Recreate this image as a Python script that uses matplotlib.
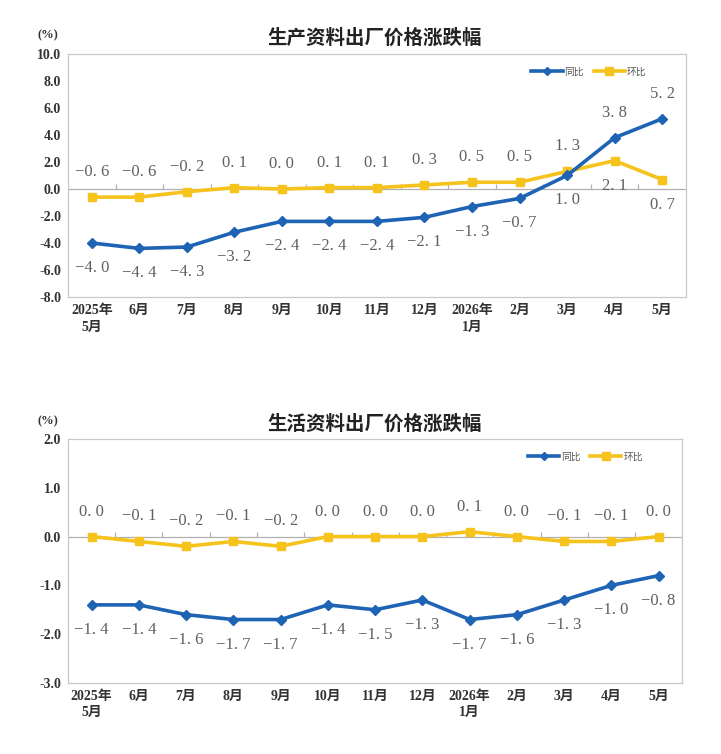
import matplotlib
matplotlib.use("Agg")
import matplotlib.pyplot as plt
from matplotlib.lines import Line2D

# ======================================================
# Datos
# ======================================================
months = ["2025年\n5月", "6月", "7月", "8月", "9月", "10月", "11月", "12月",
          "2026年\n1月", "2月", "3月", "4月", "5月"]

prod_yoy = [-4.0, -4.4, -4.3, -3.2, -2.4, -2.4, -2.4, -2.1, -1.3, -0.7, 1.0, 3.8, 5.2]
prod_mom = [-0.6, -0.6, -0.2, 0.1, 0.0, 0.1, 0.1, 0.3, 0.5, 0.5, 1.3, 2.1, 0.7]

life_yoy = [-1.4, -1.4, -1.6, -1.7, -1.7, -1.4, -1.5, -1.3, -1.7, -1.6, -1.3, -1.0, -0.8]
life_mom = [0.0, -0.1, -0.2, -0.1, -0.2, 0.0, 0.0, 0.0, 0.1, 0.0, -0.1, -0.1, 0.0]

# +1 etiqueta arriba, -1 etiqueta abajo
prod_yoy_side = [-1] * 10 + [-1, 1, 1]
prod_mom_side = [1] * 10 + [1, -1, -1]
life_yoy_side = [-1] * 13
life_mom_side = [1] * 13

BLUE = "#1f63b5"
YELLOW = "#f6c21c"
GRAY = "#606060"
SERIF = ["Liberation Serif", "Noto Sans CJK SC"]


def fmt(v):
    # separación amplia como en el original
    return f"{v:.1f}".replace("-", "−").replace(".", ". ")


def draw_panel(ax, yoy, mom, yoy_side, mom_side, ylim, ystep, tick_h):
    x = list(range(len(months)))
    ax.plot(x, yoy, color=BLUE, lw=2.6, marker="D", ms=5, zorder=4)
    ax.plot(x, mom, color=YELLOW, lw=2.6, marker="s", ms=6, zorder=3)

    ax.axhline(0, color="#b0b0b0", lw=0.9, zorder=1)
    bounds = [i + 0.5 for i in x[:-1]]
    ax.vlines(bounds, 0, tick_h, color="#b0b0b0", lw=0.9, zorder=1)

    for xi, v, s in zip(x, yoy, yoy_side):
        ax.annotate(fmt(v), (xi, v), xytext=(0, 18 * s), textcoords="offset points",
                    ha="center", va="center", fontsize=12, color=GRAY,
                    family=SERIF)
    for xi, v, s in zip(x, mom, mom_side):
        ax.annotate(fmt(v), (xi, v), xytext=(0, 18 * s), textcoords="offset points",
                    ha="center", va="center", fontsize=12, color=GRAY,
                    family=SERIF)

    ax.set_xlim(-0.5, len(months) - 0.5)
    ax.set_ylim(*ylim)
    yt = []
    t = ylim[0]
    while t <= ylim[1] + 1e-9:
        yt.append(round(t, 1))
        t += ystep
    ax.set_yticks(yt)
    ax.set_yticklabels([f"{v:.1f}" for v in yt], family=SERIF,
                       fontweight="bold", fontsize=10, color="#333333")
    ax.set_xticks(x)
    ax.set_xticklabels(months, family=SERIF, fontweight="bold", fontsize=10,
                       color="#333333", linespacing=1.35)
    ax.tick_params(axis="both", length=0, pad=5)
    for sp in ax.spines.values():
        sp.set_color("#c8c8c8")
        sp.set_linewidth(0.9)

    handles = [Line2D([], [], color=BLUE, lw=2.6, marker="D", ms=4.5),
               Line2D([], [], color=YELLOW, lw=2.6, marker="s", ms=6)]
    ax.legend(handles, ["同比", "环比"], loc="upper right", ncol=2,
              bbox_to_anchor=(0.95, 0.985), frameon=False,
              prop={"family": "Noto Sans CJK SC", "size": 7},
              labelcolor="#555555",
              handlelength=3.2, columnspacing=1.0, handletextpad=0.2)


fig = plt.figure(figsize=(7.21, 7.54), dpi=100)

ax1 = fig.add_axes([0.0943, 0.6061, 0.857, 0.3223])
draw_panel(ax1, prod_yoy, prod_mom, prod_yoy_side, prod_mom_side, (-8, 10), 2.0, 0.35)
fig.text(0.52, 0.950, "生产资料出厂价格涨跌幅", ha="center", va="center",
         family="Noto Sans CJK SC", fontweight="bold", fontsize=14, color="#222222")
fig.text(0.067, 0.953, "(%)", ha="center", va="center", family=SERIF,
         fontweight="bold", fontsize=9, color="#333333")

ax2 = fig.add_axes([0.0943, 0.0942, 0.852, 0.3236])
draw_panel(ax2, life_yoy, life_mom, life_yoy_side, life_mom_side, (-3, 2), 1.0, 0.1)
fig.text(0.52, 0.438, "生活资料出厂价格涨跌幅", ha="center", va="center",
         family="Noto Sans CJK SC", fontweight="bold", fontsize=14, color="#222222")
fig.text(0.067, 0.441, "(%)", ha="center", va="center", family=SERIF,
         fontweight="bold", fontsize=9, color="#333333")

fig.savefig("out.png", dpi=100)
